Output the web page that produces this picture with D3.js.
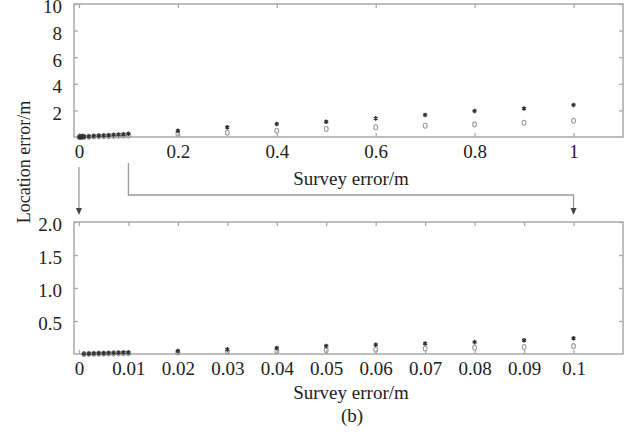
<!DOCTYPE html>
<html>
<head>
<meta charset="utf-8">
<script src="https://cdn.jsdelivr.net/npm/d3@7"></script>
<style>
  html, body { margin: 0; padding: 0; background: #fff; }
  svg { display: block; }
  svg text { font-family: "Liberation Serif", "Times New Roman", Times, "DejaVu Serif", serif !important; fill: #222; }
</style>
</head>
<body>
<svg id="chart" width="634" height="435"></svg>
<script>
// Survey error (m) sampled in three runs
const surveyFine   = [0.001, 0.002, 0.003, 0.004, 0.005, 0.006, 0.007, 0.008, 0.009, 0.01];
const surveyMid    = [0.02, 0.03, 0.04, 0.05, 0.06, 0.07, 0.08, 0.09, 0.1];
const surveyCoarse = [0.2, 0.3, 0.4, 0.5, 0.6, 0.7, 0.8, 0.9, 1.0];

// Location error (m), method A (asterisks)
const errAFine   = [0.002, 0.005, 0.007, 0.010, 0.012, 0.014, 0.017, 0.019, 0.022, 0.024];
const errAMid    = [0.045, 0.07, 0.09, 0.12, 0.14, 0.16, 0.18, 0.21, 0.24];
const errACoarse = [0.47, 0.73, 0.98, 1.15, 1.40, 1.65, 1.95, 2.15, 2.40];

// Location error (m), method B (open circles)
const errBFine   = [0.001, 0.002, 0.004, 0.005, 0.006, 0.007, 0.008, 0.010, 0.011, 0.012];
const errBMid    = [0.024, 0.036, 0.047, 0.055, 0.065, 0.083, 0.095, 0.105, 0.12];
const errBCoarse = [0.24, 0.32, 0.47, 0.60, 0.73, 0.85, 0.95, 1.07, 1.22];

// Tick values
const topXTicks = [0, 0.2, 0.4, 0.6, 0.8, 1];
const topYTicks = [2, 4, 6, 8, 10];
const botXTicks = [0, 0.01, 0.02, 0.03, 0.04, 0.05, 0.06, 0.07, 0.08, 0.09, 0.1];
const botYTicks = [0.5, 1.0, 1.5, 2.0];

const surveyAll = surveyFine.concat(surveyMid, surveyCoarse);
const errA = errAFine.concat(errAMid, errACoarse);
const errB = errBFine.concat(errBMid, errBCoarse);
const points = surveyAll.map((s, i) => ({ s, a: errA[i], b: errB[i] }));

const svg = d3.select("#chart");
const FONT = 19;
const frameColor = "#a8a8a8";

const left = 74, right = 623;

function panel(cfg) {
  const x = d3.scaleLinear().domain(cfg.xDomain).range([left, right]);
  const y = d3.scaleLinear().domain(cfg.yDomain).range([cfg.bottom, cfg.top]);
  const g = svg.append("g");

  const styleAxis = sel => {
    sel.attr("font-family", null).attr("font-size", null);
    sel.select(".domain").remove();
    sel.selectAll(".tick line").attr("stroke", frameColor).attr("stroke-width", 1.3);
    sel.selectAll(".tick text").attr("font-size", FONT).attr("fill", "#222");
  };

  g.append("g").attr("transform", `translate(0,${cfg.bottom})`)
    .call(d3.axisBottom(x).tickValues(cfg.xTicks).tickSize(-4).tickPadding(7.5)
      .tickFormat(cfg.xFormat))
    .call(styleAxis);
  g.append("g").attr("transform", `translate(0,${cfg.top})`)
    .call(d3.axisTop(x).tickValues(cfg.xTicks).tickSize(-4).tickFormat(""))
    .call(styleAxis);
  g.append("g").attr("transform", `translate(${left},0)`)
    .call(d3.axisLeft(y).tickValues(cfg.yTicks).tickSize(-4).tickPadding(12)
      .tickFormat(cfg.yFormat))
    .call(styleAxis)
    .selectAll(".tick text").attr("dy", "0.47em");
  g.append("g").attr("transform", `translate(${right},0)`)
    .call(d3.axisRight(y).tickValues(cfg.yTicks).tickSize(-4).tickFormat(""))
    .call(styleAxis);

  g.append("rect")
    .attr("x", left).attr("y", cfg.top)
    .attr("width", right - left).attr("height", cfg.bottom - cfg.top)
    .attr("fill", "none").attr("stroke", frameColor).attr("stroke-width", 1.5);

  const data = points.filter(d => d.s <= cfg.xDomain[1]);

  // method B: small open circles
  g.append("g").selectAll("ellipse").data(data).join("ellipse")
    .attr("cx", d => x(d.s)).attr("cy", d => y(d.b))
    .attr("rx", 1.9).attr("ry", 2.5)
    .attr("fill", "none").attr("stroke", "#999").attr("stroke-width", 1.1);

  // method A: asterisks
  g.append("g").selectAll("path").data(data).join("path")
    .attr("transform", d => `translate(${x(d.s)},${y(d.a)})`)
    .attr("d", d3.symbol(d3.symbolAsterisk, 14))
    .attr("fill", "none").attr("stroke", "#333").attr("stroke-width", 1.4);

  return { x, y };
}

const topP = panel({
  xDomain: [-0.01, 1.1], yDomain: [0, 10], top: 4, bottom: 137,
  xTicks: topXTicks, yTicks: topYTicks,
  xFormat: d => d3.format("~g")(d), yFormat: d => d3.format("d")(d)
});
const botP = panel({
  xDomain: [-0.001, 0.11], yDomain: [0, 2], top: 222, bottom: 354,
  xTicks: botXTicks, yTicks: botYTicks,
  xFormat: d => d3.format("~g")(d), yFormat: d => d3.format(".1f")(d)
});

// Axis titles
svg.append("text").attr("x", 351).attr("y", 185).attr("text-anchor", "middle")
  .attr("font-size", FONT).text("Survey error/m");
svg.append("text").attr("x", 351).attr("y", 399).attr("text-anchor", "middle")
  .attr("font-size", FONT).text("Survey error/m");
svg.append("text").attr("x", 352).attr("y", 422).attr("text-anchor", "middle")
  .attr("font-size", FONT).text("(b)");
svg.append("text")
  .attr("transform", "translate(30,162) rotate(-90)")
  .attr("text-anchor", "middle").attr("font-size", 18).text("Location error/m");

// Zoom connectors: top-panel range [0, 0.1] maps onto the lower panel
const connColor = "#999";
const arrowHead = (cx, tipY) => {
  svg.append("path")
    .attr("d", `M${cx - 3},${tipY - 7} L${cx + 3},${tipY - 7} L${cx},${tipY} Z`)
    .attr("fill", "#444");
};
const x0 = topP.x(0), x01 = topP.x(0.1), xEnd = botP.x(0.1);
svg.append("path")
  .attr("d", `M${x0},167 V${209}`)
  .attr("fill", "none").attr("stroke", connColor).attr("stroke-width", 1.3);
arrowHead(x0, 215);
svg.append("path")
  .attr("d", `M${x01},163 V195 H${xEnd} V209`)
  .attr("fill", "none").attr("stroke", connColor).attr("stroke-width", 1.3);
arrowHead(xEnd, 215);
</script>
</body>
</html>
